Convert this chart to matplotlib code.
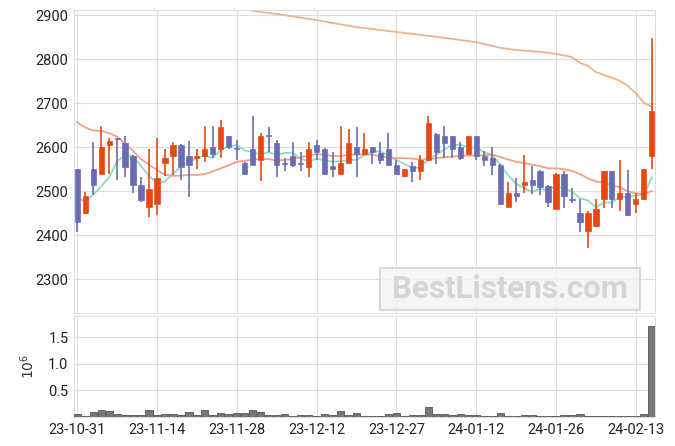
import matplotlib
matplotlib.use("Agg")
import matplotlib.pyplot as plt
from matplotlib.patches import Rectangle

plt.rcParams['font.family'] = ['Roboto', 'DejaVu Sans']

# daily candles, 23-10-31 .. 24-02-15 (trading days)
opens = [2550, 2450, 2550, 2540, 2605, 2620, 2610, 2580, 2515, 2465,
         2470, 2565, 2580, 2605, 2580, 2575, 2580, 2600, 2597, 2625,
         2597, 2565, 2595, 2570, 2626, 2610, 2562, 2580, 2562, 2555,
         2605, 2595, 2557, 2540, 2565, 2600, 2585, 2600, 2587, 2595,
         2560, 2535, 2557, 2545, 2570, 2630, 2625, 2625, 2600, 2585,
         2625, 2580, 2575, 2560, 2465, 2495, 2515, 2525, 2545, 2512,
         2460, 2540, 2482, 2450, 2410, 2420, 2482, 2545, 2482, 2495,
         2470, 2482, 2580]
closes = [2430, 2490, 2515, 2600, 2615, 2618, 2555, 2515, 2480, 2505,
          2530, 2575, 2605, 2555, 2560, 2580, 2595, 2585, 2645, 2600,
          2596, 2540, 2560, 2625, 2625, 2560, 2561, 2560, 2561, 2595,
          2590, 2540, 2550, 2565, 2610, 2585, 2595, 2590, 2570, 2560,
          2540, 2550, 2545, 2570, 2655, 2590, 2610, 2595, 2575, 2625,
          2580, 2570, 2560, 2470, 2495, 2490, 2520, 2515, 2510, 2475,
          2540, 2490, 2481, 2430, 2450, 2460, 2545, 2482, 2495, 2445,
          2482, 2550, 2682]
highs = [2551, 2499, 2611, 2649, 2622, 2622, 2625, 2583, 2532, 2595,
         2620, 2595, 2611, 2607, 2615, 2595, 2649, 2649, 2661, 2625,
         2617, 2566, 2670, 2632, 2645, 2617, 2575, 2611, 2590, 2611,
         2617, 2599, 2590, 2649, 2641, 2645, 2632, 2600, 2611, 2632,
         2570, 2551, 2566, 2582, 2671, 2632, 2649, 2625, 2611, 2625,
         2626, 2591, 2600, 2562, 2520, 2530, 2582, 2557, 2548, 2513,
         2542, 2546, 2507, 2482, 2454, 2482, 2546, 2546, 2570, 2549,
         2495, 2550, 2849]
lows = [2407, 2448, 2492, 2539, 2540, 2526, 2533, 2495, 2476, 2441,
        2446, 2534, 2537, 2526, 2487, 2551, 2567, 2575, 2575, 2595,
        2571, 2537, 2560, 2524, 2590, 2532, 2546, 2556, 2546, 2532,
        2570, 2537, 2532, 2540, 2565, 2532, 2582, 2561, 2561, 2560,
        2540, 2532, 2520, 2526, 2569, 2561, 2575, 2575, 2570, 2585,
        2570, 2557, 2536, 2469, 2464, 2475, 2495, 2493, 2492, 2465,
        2460, 2461, 2473, 2407, 2370, 2419, 2461, 2461, 2456, 2444,
        2450, 2481, 2550]
volumes = [0.056, 0.02, 0.093, 0.13, 0.118, 0.056, 0.037, 0.037, 0.037, 0.137,
           0.037, 0.056, 0.056, 0.03, 0.093, 0.037, 0.137, 0.037, 0.075, 0.056,
           0.075, 0.075, 0.137, 0.093, 0.037, 0.037, 0.056, 0.012, 0.037, 0.037,
           0.02, 0.056, 0.037, 0.11, 0.037, 0.075, 0.012, 0.012, 0.012, 0.056,
           0.075, 0.012, 0.037, 0.037, 0.186, 0.056, 0.056, 0.037, 0.056, 0.037,
           0.037, 0.012, 0.012, 0.075, 0.012, 0.012, 0.037, 0.037, 0.012, 0.012,
           0.012, 0.037, 0.037, 0.056, 0.012, 0.012, 0.012, 0.012, 0.012, 0.012,
           0.012, 0.056, 1.72]

ma5 = [2488, 2475, 2492, 2511, 2531, 2568, 2581, 2581, 2557, 2535,
       2518, 2522, 2540, 2556, 2566, 2576, 2581, 2576, 2594, 2602,
       2605, 2593, 2588, 2584, 2589, 2582, 2587, 2587, 2574, 2568,
       2574, 2570, 2567, 2568, 2571, 2571, 2582, 2590, 2591, 2580,
       2571, 2562, 2553, 2553, 2573, 2583, 2595, 2605, 2606, 2600,
       2598, 2589, 2582, 2561, 2536, 2517, 2507, 2498, 2506, 2502,
       2512, 2506, 2499, 2484, 2479, 2463, 2474, 2474, 2487, 2486,
       2490, 2491, 2531]
ma20 = [2657, 2645, 2638, 2637, 2632, 2624, 2607, 2592, 2573, 2560,
        2548, 2537, 2535, 2535, 2537, 2537, 2539, 2545, 2552, 2559,
        2567, 2569, 2572, 2573, 2573, 2570, 2571, 2573, 2577, 2581,
        2584, 2583, 2580, 2580, 2583, 2583, 2583, 2583, 2579, 2577,
        2575, 2575, 2574, 2572, 2573, 2575, 2577, 2579, 2580, 2581,
        2581, 2582, 2583, 2578, 2572, 2567, 2564, 2560, 2557, 2552,
        2552, 2550, 2546, 2539, 2529, 2522, 2519, 2513, 2509, 2500,
        2495, 2494, 2500]
ma_long_idx = [21, 22, 25, 30, 35, 40, 45, 50, 53, 55, 58, 60, 62, 63, 64,
               65, 66, 67, 68, 69, 70, 71, 72]
ma_long = [2914, 2910, 2903, 2889, 2873, 2862, 2851, 2839, 2826, 2821, 2817,
           2812, 2805, 2792, 2785, 2771, 2764, 2758, 2751, 2739, 2723, 2701, 2692]

tick_pos = [0, 10, 20, 30, 40, 50, 60, 70]
tick_labels = ['23-10-31', '23-11-14', '23-11-28', '23-12-12',
               '23-12-27', '24-01-12', '24-01-26', '24-02-13']

up_color = '#E8480F'
down_color = '#6A6CB3'

fig = plt.figure(figsize=(6.75, 4.46), dpi=100)
ax = fig.add_axes([74/675, 1-313/446, 581/675, 303/446])
axv = fig.add_axes([74/675, 1-417/446, 581/675, 101/446], sharex=ax)

x = list(range(len(closes)))
for i in x:
    c = up_color if closes[i] >= opens[i] else down_color
    ax.vlines(i, lows[i], highs[i], color=c, linewidth=1.2, zorder=3)
    lo = min(opens[i], closes[i])
    h = max(abs(closes[i] - opens[i]), 2)
    ax.bar(i, h, bottom=lo, width=0.65, color=c, edgecolor=c, linewidth=0.5, zorder=4)

ax.plot(x, ma5, color='#8FDCC0', linewidth=1.3, zorder=2)
ax.plot(x, ma20, color='#F0A384', linewidth=1.3, zorder=2)
ax.plot(ma_long_idx, ma_long, color='#EEB388', linewidth=1.3, zorder=2)

ax.set_ylim(2223, 2912)
ax.set_yticks([2300, 2400, 2500, 2600, 2700, 2800, 2900])
ax.set_xlim(-0.4, 72.4)

axv.bar(x, volumes, width=0.9, color='#777777', edgecolor='#555555', linewidth=0.6, zorder=3)
axv.set_ylim(0, 1.9)
axv.set_yticks([0.5, 1.0, 1.5])
axv.set_ylabel(r'$10^6$', fontsize=10, color='#333333', labelpad=8)
axv.set_xticks(tick_pos)
axv.set_xticklabels(tick_labels)

for a in (ax, axv):
    a.grid(True, color='#DDDDDD', linewidth=0.8, zorder=0)
    a.set_axisbelow(True)
    a.tick_params(length=0, labelsize=10.5, colors='#222222', pad=4)
    for s in a.spines.values():
        s.set_color('#DDDDDD')
plt.setp(ax.get_xticklabels(), visible=False)

# watermark
fig.patches.append(Rectangle((380/675, 1-310/446), 260/675, 42/446,
                             transform=fig.transFigure, facecolor='#F4F4F4',
                             edgecolor='#D0D0D0', linewidth=1.5, alpha=0.8, zorder=5))
fig.text(510/675, 1-289/446, 'BestListens.com', ha='center', va='center',
         fontsize=22.5, fontweight='bold', color='#D5D5D5', zorder=6)

fig.savefig('out.png', dpi=100)
